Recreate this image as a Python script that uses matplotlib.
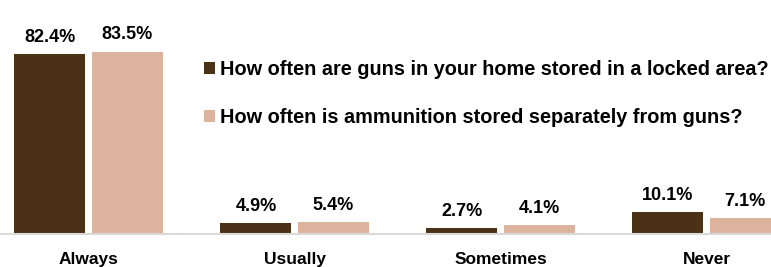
import numpy as np
import matplotlib
matplotlib.use("Agg")
import matplotlib.pyplot as plt

plt.rcParams['font.family'] = ['Liberation Sans', 'DejaVu Sans']

categories = ['Always', 'Usually', 'Sometimes', 'Never']
locked = [82.4, 4.9, 2.7, 10.1]
separate = [83.5, 5.4, 4.1, 7.1]
series_names = ['How often are guns in your home stored in a locked area?',
                'How often is ammunition stored separately from guns?']

dark = '#4b3116'
light = '#dcb49d'

fig = plt.figure(figsize=(7.71, 2.67), dpi=100)
ax = fig.add_axes([0, 33 / 267, 1, 218.4 / 267])

x = np.arange(len(categories))
w = 0.345
gap = 0.03
b1 = ax.bar(x - w / 2 - gap / 2, locked, w, color=dark, label=series_names[0])
b2 = ax.bar(x + w / 2 + gap / 2, separate, w, color=light, label=series_names[1])

for bars, vals in ((b1, locked), (b2, separate)):
    for r, v in zip(bars, vals):
        ax.annotate(f'{v:.1f}%', (r.get_x() + r.get_width() / 2, v),
                    xytext=(0, 6), textcoords='offset points',
                    ha='center', va='bottom', fontsize=13, fontweight='bold')

ax.set_xlim(-0.43, 3.313)
ax.set_ylim(0, 100)
for s in ['top', 'right', 'left']:
    ax.spines[s].set_visible(False)
ax.spines['bottom'].set_color('#d9d9d9')
ax.spines['bottom'].set_linewidth(1.5)
ax.set_yticks([])
ax.set_xticks(x)
ax.set_xticklabels(categories, fontsize=12.5, fontweight='bold')
ax.tick_params(axis='x', length=0, pad=13)

leg = ax.legend(loc='upper left', bbox_to_anchor=(194 / 771, 1 - 50 / 267),
                bbox_transform=fig.transFigure, frameon=False,
                fontsize=14.3, labelspacing=1.45, handlelength=0.55,
                handleheight=0.55, handletextpad=0.25, borderpad=0)
for t in leg.get_texts():
    t.set_fontweight('bold')

fig.savefig('out.png', dpi=100)
